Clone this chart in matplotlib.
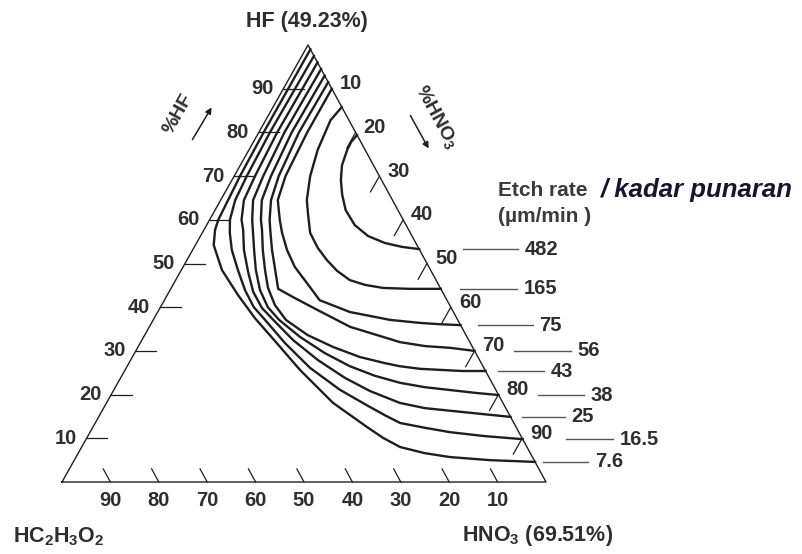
import numpy as np
import matplotlib
matplotlib.use('Agg')
import matplotlib.pyplot as plt

# Iso-etch curves for the HF / HNO3 / acetic acid system
# each curve: HF % and HNO3 % (acetic acid = rest)
c482_hf = [79.4, 77.8, 76.0, 72.5, 69.1, 65.7, 62.2, 58.8, 56.3, 54.7, 53.8, 53.3]
c482_no3 = [20.6, 20.2, 20.3, 21.0, 22.5, 24.5, 27.0, 30.6, 34.6, 38.9, 42.9, 46.7]

c165_hf = [85.8, 82.8, 76.0, 70.0, 64.5, 61.1, 57.0, 53.5, 50.8, 48.3, 46.2, 45.1,
           44.4, 44.2, 44.2]
c165_no3 = [14.2, 13.4, 14.2, 15.7, 17.8, 19.8, 22.3, 25.7, 28.9, 32.3, 36.0, 39.7,
            43.8, 49.5, 55.8]

c75_hf = [90.0, 80.0, 70.0, 64.5, 60.0, 57.0, 53.1, 49.2, 45.5, 41.6, 38.9, 37.1,
          36.4, 36.1, 35.9]
c75_no3 = [10.0, 10.0, 10.6, 11.8, 14.5, 16.5, 19.5, 23.1, 27.5, 32.1, 39.7, 48.9,
           55.5, 59.8, 64.1]

c56_hf = [91.5, 80.0, 70.0, 64.5, 60.0, 57.7, 53.1, 48.5, 44.2, 42.1, 39.4, 35.5,
          32.0, 31.1, 30.7, 30.0]
c56_no3 = [8.5, 8.3, 9.2, 10.4, 12.4, 13.7, 16.4, 19.4, 22.2, 26.7, 32.7, 41.5,
           53.6, 59.2, 64.6, 70.0]

c43_hf = [93.0, 80.0, 70.0, 64.5, 60.0, 57.7, 53.1, 48.5, 44.4, 40.5, 37.1, 33.6,
          30.9, 28.6, 27.2, 26.5, 25.9, 25.4, 25.4]
c43_no3 = [7.0, 6.8, 7.6, 8.5, 10.6, 12.0, 14.5, 17.3, 20.0, 23.4, 27.4, 33.7,
           40.3, 47.0, 52.9, 56.3, 60.8, 69.7, 74.6]

c38_hf = [94.5, 80.0, 70.0, 64.5, 60.0, 57.7, 53.1, 48.5, 43.9, 40.0, 37.1, 33.2,
          29.5, 26.5, 24.3, 22.7, 21.7, 20.4, 19.9]
c38_no3 = [5.5, 5.3, 6.0, 6.7, 8.8, 10.1, 12.7, 15.4, 18.6, 22.2, 26.0, 32.3,
           39.3, 46.0, 52.3, 58.3, 63.9, 75.0, 80.1]

c25_hf = [96.0, 80.0, 70.0, 64.5, 60.0, 57.7, 53.1, 48.1, 43.5, 39.8, 37.1, 32.5,
          27.9, 23.8, 20.8, 18.1, 16.9, 15.6, 14.9]
c25_no3 = [4.0, 3.8, 4.3, 4.8, 6.6, 8.1, 10.6, 14.0, 17.4, 21.1, 24.8, 31.2,
           38.7, 46.4, 53.1, 60.6, 66.4, 78.5, 85.1]

c16_hf = [97.5, 80.0, 70.0, 64.5, 60.0, 57.0, 53.1, 48.5, 43.9, 40.0, 37.1, 31.8,
          26.1, 21.1, 17.4, 15.3, 13.5, 12.4, 11.4, 10.5, 9.8]
c16_no3 = [2.5, 2.3, 2.6, 3.0, 4.2, 5.7, 8.1, 11.7, 15.5, 19.3, 23.1, 29.9,
           38.0, 46.7, 54.4, 58.9, 63.0, 68.7, 74.4, 82.0, 90.2]

c7_hf = [99.0, 80.0, 70.0, 60.0, 57.7, 54.2, 48.5, 42.8, 37.5, 31.8, 25.6, 18.1,
         12.6, 10.1, 8.0, 6.6, 5.7, 5.0, 4.6]
c7_no3 = [1.0, 1.0, 1.2, 1.8, 2.3, 3.8, 8.4, 14.6, 20.8, 28.2, 36.2, 46.8,
          56.6, 61.2, 65.8, 71.6, 77.3, 85.9, 95.4]

rates = ['482', '165', '75', '56', '43', '38', '25', '16.5', '7.6']
curves = [(c482_hf, c482_no3), (c165_hf, c165_no3), (c75_hf, c75_no3),
          (c56_hf, c56_no3), (c43_hf, c43_no3), (c38_hf, c38_no3),
          (c25_hf, c25_no3), (c16_hf, c16_no3), (c7_hf, c7_no3)]

tick_vals = [10, 20, 30, 40, 50, 60, 70, 80, 90]

# leader line gap from the edge and its length (px), per rate label
lead_gap = [44, 19, 17, 39, 12, 39, 11, 43, 8]
lead_len = [55, 57, 55, 57, 46, 46, 43, 47, 45]

# triangle placement in the picture (pixels)
X0, Y0, W, SH, H = 62, 482, 484, 246, 437


def tern(hf, no3):
    hf = np.asarray(hf, dtype=float) / 100
    no3 = np.asarray(no3, dtype=float) / 100
    return X0 + W * no3 + SH * hf, Y0 - H * hf


FAM = ['Liberation Sans', 'DejaVu Sans']
INK = '#1e1e1e'
TXT = '#2e2e2e'

fig = plt.figure(figsize=(8.03, 5.54), dpi=100)
ax = fig.add_axes([0, 0, 1, 1])
ax.set_xlim(0, 803)
ax.set_ylim(554, 0)
ax.axis('off')

# triangle
tx, ty = tern([0, 100, 0, 0], [0, 0, 100, 0])
ax.plot(tx, ty, color=INK, lw=1.0)

fs = 14.5
for v in tick_vals:
    # HF on the left edge
    x, y = tern([v, v], [0, 4.2])
    ax.plot(x, y, color=INK, lw=0.9)
    ax.text(x[0] - 10, y[0], str(v), ha='right', va='center', fontsize=fs,
            family=FAM, weight='bold', color=TXT)
    # HNO3 on the right edge
    x, y = tern([100 - v, 100 - v - 3.6], [v, v])
    ax.plot(x, y, color=INK, lw=0.9)
    ax.text(x[0] + 8, y[0] - 5, str(v), ha='left', va='center', fontsize=fs,
            family=FAM, weight='bold', color=TXT)
    # acetic acid on the base
    x, y = tern([0, 3.0], [100 - v, 100 - v - 3.0])
    ax.plot(x, y, color=INK, lw=0.9)
    ax.text(x[0], y[0] + 18, str(v), ha='center', va='center', fontsize=fs,
            family=FAM, weight='bold', color=TXT)

# iso-etch curves and their rate labels
for (hf, no3), r, g, L in zip(curves, rates, lead_gap, lead_len):
    x, y = tern(hf, no3)
    ax.plot(x, y, color=INK, lw=1.7, solid_joinstyle='round')
    ax.plot([x[-1] + g, x[-1] + g + L], [y[-1], y[-1]], color='#555555', lw=1.0)
    ax.text(x[-1] + g + L + 7, y[-1], r, ha='left', va='center', fontsize=fs,
            family=FAM, weight='bold', color=TXT)

# corner names
ax.text(307, 22, 'HF (49.23%)', ha='center', va='center', fontsize=15.5,
        family=FAM, weight='bold', color=TXT)
ax.text(13, 537, 'HC$_2$H$_3$O$_2$', ha='left', va='center', fontsize=15.5,
        family=FAM, weight='bold', color=TXT)
ax.text(538, 536, 'HNO$_3$ (69.51%)', ha='center', va='center', fontsize=15.5,
        family=FAM, weight='bold', color=TXT)

# axis names with arrows
ax.text(178, 114, '%HF', ha='center', va='center', rotation=60.6, fontsize=14,
        family=FAM, weight='bold', color=TXT)
ax.annotate('', xy=(213, 105), xytext=(191, 142),
            arrowprops=dict(arrowstyle='-|>', lw=1.1, color=INK, mutation_scale=9))
ax.text(437, 117, '%HNO$_3$', ha='center', va='center', rotation=-61.4, fontsize=14,
        family=FAM, weight='bold', color=TXT)
ax.annotate('', xy=(430, 151), xytext=(409, 113),
            arrowprops=dict(arrowstyle='-|>', lw=1.1, color=INK, mutation_scale=9))

# legend title
ax.text(498, 191, 'Etch rate', ha='left', va='center', fontsize=15,
        family=FAM, weight='bold', color='#3a3a3a')
ax.text(601, 190, '/ kadar punaran', ha='left', va='center', fontsize=18.5,
        family=FAM, weight='bold', style='italic', color='#15152e')
ax.text(498, 216, '(µm/min )', ha='left', va='center', fontsize=15,
        family=FAM, weight='bold', color='#3a3a3a')

plt.rcParams['mathtext.default'] = 'regular'
fig.savefig('out.png', dpi=100, facecolor='white')
